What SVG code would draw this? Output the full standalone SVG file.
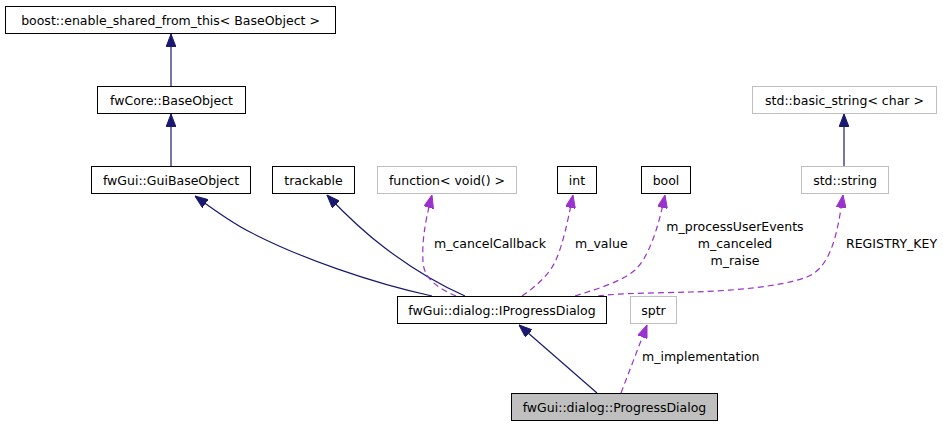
<svg xmlns="http://www.w3.org/2000/svg" width="943" height="427" viewBox="0 0 943 427">
<style>
text{font-family:"DejaVu Sans","Liberation Sans",sans-serif;font-size:12.5px;fill:#000}
.n rect{fill:#fff;stroke:#000;stroke-width:1}
.n.ext rect{stroke:#bfbfbf}
.n.cur rect{fill:#bfbfbf;stroke:#000}
.n text{text-anchor:middle}
.inh{fill:none;stroke:#191970;stroke-width:1.2;marker-end:url(#ah)}
.use{fill:none;stroke:#9a32cd;stroke-width:1.2;stroke-dasharray:6,4;marker-end:url(#ap)}
</style>
<defs>
<marker id="ah" viewBox="0 0 13 10" refX="13" refY="5" markerUnits="userSpaceOnUse" markerWidth="13" markerHeight="10" orient="auto"><path d="M0,0 L13,5 L0,10 z" fill="#191970" stroke="#191970"/></marker>
<marker id="ap" viewBox="0 0 13 10" refX="13" refY="5" markerUnits="userSpaceOnUse" markerWidth="13" markerHeight="10" orient="auto"><path d="M0,0 L13,5 L0,10 z" fill="#9a32cd" stroke="#9a32cd"/></marker>
</defs>
<g id="connectors">
<path class="inh" d="M171,86 L171,34"/>
<path class="inh" d="M171,166 L171,114"/>
<path class="inh" d="M432,296 C372,283 300,258 250,232 C232,223 214,210 195,196"/>
<path class="inh" d="M465,296 C440,285 410,267 385,248 C365,233 345,214 327,195"/>
<path class="use" d="M456,296 C440,289 424,280 423,262 C422,244 424,225 432,195"/>
<path class="use" d="M522,296 C535,287 548,276 555,262 C563,245 568,220 573,195"/>
<path class="use" d="M575,296 C590,291 620,283 635,270 C648,258 658,230 665,195"/>
<path class="use" d="M598,296 C620,293 660,293 690,292 C730,291 780,287 807,277 C832,267 838,230 843,195"/>
<path class="inh" d="M844,166 L844,114"/>
<path class="inh" d="M597,393 L519,325"/>
<path class="use" d="M621,393 L647,325"/>
<text x="490" y="248" text-anchor="middle">m_cancelCallback</text>
<text x="575" y="248">m_value</text>
<text x="735" y="231" text-anchor="middle">m_processUserEvents</text>
<text x="735" y="248" text-anchor="middle">m_canceled</text>
<text x="735" y="265" text-anchor="middle">m_raise</text>
<text x="846" y="248">REGISTRY_KEY</text>
<text x="642" y="361">m_implementation</text>
</g>
<g id="boost_enable_shared" class="n"><rect x="5.5" y="6.5" width="330" height="27"/><text x="170.5" y="24.5">boost::enable_shared_from_this&lt; BaseObject &gt;</text></g>
<g id="BaseObject" class="n"><rect x="97.5" y="86.5" width="148" height="27"/><text x="171.5" y="104.5">fwCore::BaseObject</text></g>
<g id="GuiBaseObject" class="n"><rect x="91.5" y="166.5" width="159" height="27"/><text x="171" y="184.5">fwGui::GuiBaseObject</text></g>
<g id="trackable" class="n"><rect x="272.5" y="166.5" width="82" height="27"/><text x="313.5" y="184.5">trackable</text></g>
<g id="function" class="n ext"><rect x="377.5" y="166.5" width="139" height="27"/><text x="447" y="184.5">function&lt; void() &gt;</text></g>
<g id="int" class="n"><rect x="557.5" y="166.5" width="39" height="27"/><text x="577" y="184.5">int</text></g>
<g id="bool" class="n"><rect x="641.5" y="166.5" width="49" height="27"/><text x="666" y="184.5">bool</text></g>
<g id="basic_string" class="n ext"><rect x="752.5" y="86.5" width="184" height="27"/><text x="844.5" y="104.5">std::basic_string&lt; char &gt;</text></g>
<g id="std_string" class="n ext"><rect x="801.5" y="166.5" width="87" height="27"/><text x="845" y="184.5">std::string</text></g>
<g id="IProgressDialog" class="n"><rect x="397.5" y="296.5" width="209" height="27"/><text x="502" y="314.5">fwGui::dialog::IProgressDialog</text></g>
<g id="sptr" class="n ext"><rect x="630.5" y="296.5" width="46" height="27"/><text x="653.5" y="314.5">sptr</text></g>
<g id="ProgressDialog" class="n cur"><rect x="511.5" y="393.5" width="206" height="27"/><text x="614.5" y="411.5">fwGui::dialog::ProgressDialog</text></g>
</svg>
